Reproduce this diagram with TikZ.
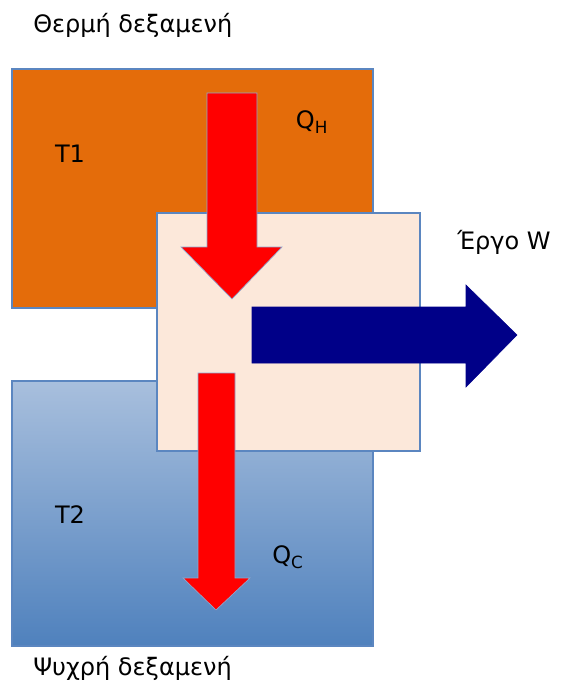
\documentclass[tikz,border=0pt]{standalone}
\usepackage{fontspec}
\setmainfont{DejaVu Sans}
\usepackage{tikz}
\definecolor{hotfill}{HTML}{E46C0A}
\definecolor{coldtop}{HTML}{A8BFDD}
\definecolor{coldbot}{HTML}{4F81BD}
\definecolor{enginefill}{HTML}{FCE8DA}
\definecolor{edgeblue}{HTML}{5B86C0}
\definecolor{worknavy}{HTML}{000088}
\tikzset{
  reservoir/.style={draw=edgeblue, line width=1.2pt},
  heatarrow/.style={fill=red, draw=edgeblue!70, line width=0.5pt},
  label/.style={font=\fontsize{18}{21}\selectfont, text=black, inner sep=0pt}
}
\begin{document}
\begin{tikzpicture}[x=0.75pt, y=-0.75pt]
			%%%%% START %%%%%
			\useasboundingbox (0, 0) rectangle (563, 686);
			
			% reservoirs
			\draw[reservoir, fill=hotfill] (12, 69) rectangle (373, 308);
			\draw[reservoir, top color=coldtop, bottom color=coldbot] (12, 381) rectangle (373, 646);
			
			% engine
			\draw[reservoir, line width=0.8pt, fill=enginefill] (157, 213) rectangle (420, 451);
			
			% heat in
			\draw[heatarrow] (207, 93) -- (257, 93) -- (257, 247) -- (282, 247) -- (232, 299) -- (181, 247) -- (207, 247) -- cycle;
			
			% work out
			\draw[fill=worknavy, draw=worknavy] (252, 307) -- (466, 307) -- (466, 285) -- (517, 335) -- (466, 387) -- (466, 363) -- (252, 363) -- cycle;
			
			% heat out
			\draw[heatarrow] (198, 373) -- (235, 373) -- (235, 578) -- (250, 578) -- (216, 610) -- (183, 578) -- (198, 578) -- cycle;
			
			% texts
			\node[label, anchor=west] (hotname) at (33, 25) {Θερμή δεξαμενή};
			\node[label, anchor=west] (coldname) at (33, 668) {Ψυχρή δεξαμενή};
			\node[label] (tone) at (70, 154) {T1};
			\node[label] (ttwo) at (70, 515) {T2};
			\node[label] (qhot) at (312, 122) {Q\textsubscript{H}};
			\node[label] (qcold) at (288, 557) {Q\textsubscript{C}};
			\node[label, anchor=west] (work) at (457, 242) {Έργο W};
			%%%%% END %%%%%
\end{tikzpicture}
\end{document}
